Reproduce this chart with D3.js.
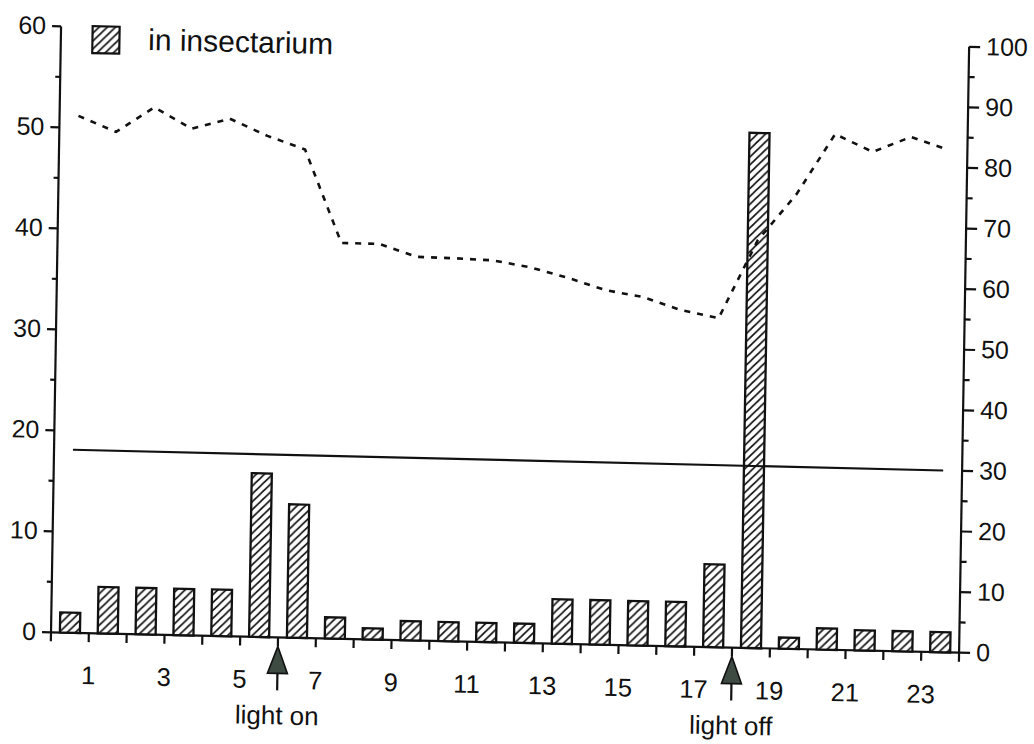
<!DOCTYPE html>
<html>
<head>
<meta charset="utf-8">
<script src="https://cdn.jsdelivr.net/npm/d3@7"></script>
<style>
  html, body { margin: 0; padding: 0; background: #fff; }
  svg { display: block; }
  text { font-family: "Liberation Sans", Arial, Helvetica, sans-serif; fill: #111; }
</style>
</head>
<body>
<svg id="chart" width="1034" height="744"></svg>
<script>
// Hour of day (bars are centred on each hour interval)
const hours = d3.range(1, 25);
// Share of catches per hour, in insectarium (left axis)
const catches = [2.0, 4.6, 4.6, 4.6, 4.6, 16.2, 13.2, 2.1, 1.1, 1.9, 1.9, 1.9,
                 1.9, 4.4, 4.4, 4.4, 4.4, 8.2, 51.0, 1.1, 2.1, 2.0, 2.0, 2.0];
// Relative humidity per hour (right axis, dashed)
const humidity = [85.3, 82.8, 87.0, 83.6, 85.4, 82.7, 80.6, 65.3, 65.3, 63.3, 63.2, 63.0,
                  62.0, 60.4, 58.5, 57.5, 55.5, 54.3, 67.3, 75.0, 85.1, 82.3, 84.9, 82.9];
// Temperature reference line (right axis, solid)
const refHours = [0.5, 23.5];
const refLevel = [30.2, 30.0];
// Axis ticks
const leftTicks = [0, 10, 20, 30, 40, 50, 60];
const leftMinor = [5, 15, 25, 35, 45, 55];
const rightTicks = [0, 10, 20, 30, 40, 50, 60, 70, 80, 90, 100];
const rightMinor = [5, 15, 25, 35, 45, 55, 65, 75, 85, 95];
const hourTicks = d3.range(0, 25);
const hourLabels = [1, 3, 5, 7, 9, 11, 13, 15, 17, 19, 21, 23];
// Light switching events
const lightEvents = [{ hour: 6, label: "light on" }, { hour: 18, label: "light off" }];
const legendLabel = "in insectarium";

const W = 908.3, H = 606;
const svg = d3.select("#chart");
svg.append("rect").attr("width", 1034).attr("height", 744).attr("fill", "#fff");

const defs = svg.append("defs");
const pat = defs.append("pattern").attr("id", "hatch")
  .attr("patternUnits", "userSpaceOnUse").attr("width", 8).attr("height", 8);
pat.append("rect").attr("width", 8).attr("height", 8).attr("fill", "#fff");
pat.append("path").attr("d", "M-1,1 l2,-2 M0,8 l8,-8 M7,9 l2,-2")
  .attr("stroke", "#111").attr("stroke-width", 1.6);

// plot frame is slightly skewed on the page
const g = svg.append("g")
  .attr("transform", "matrix(0.99975,0.02246,-0.0166,0.99986,51,632.3)");

const x = d3.scaleLinear().domain([0, 24]).range([0, W]);
const yL = d3.scaleLinear().domain([0, 60]).range([0, -H]);
const yR = d3.scaleLinear().domain([0, 100]).range([0, -H]);
const step = x(1) - x(0);
const bw = step * 0.53;

function styleAxis(sel, fs) {
  sel.selectAll("path.domain").attr("stroke", "#111").attr("stroke-width", 2.2);
  sel.selectAll(".tick line").attr("stroke", "#111").attr("stroke-width", 2.2);
  sel.selectAll(".tick text").attr("font-size", fs)
    .attr("font-family", "Liberation Sans, Arial, Helvetica, sans-serif").attr("fill", "#111");
}

// left axis
const gl = g.append("g").call(d3.axisLeft(yL).tickValues(leftTicks).tickSize(9)
  .tickSizeOuter(0).tickPadding(6).offset(0));
styleAxis(gl, 25);
const glm = g.append("g").call(d3.axisLeft(yL).tickValues(leftMinor).tickSize(5)
  .tickFormat("").offset(0));
glm.select("path.domain").remove();
styleAxis(glm, 25);

// right axis
const gr = g.append("g").attr("transform", `translate(${W},0)`)
  .call(d3.axisRight(yR).tickValues(rightTicks).tickSize(11).tickSizeOuter(0)
    .tickPadding(6).offset(0));
styleAxis(gr, 25);
const grm = g.append("g").attr("transform", `translate(${W},0)`)
  .call(d3.axisRight(yR).tickValues(rightMinor).tickSize(6).tickFormat("").offset(0));
grm.select("path.domain").remove();
styleAxis(grm, 25);

// hour axis
const gx = g.append("g").call(d3.axisBottom(x).tickValues(hourTicks).tickSize(9)
  .tickSizeOuter(0).tickPadding(24).offset(0)
  .tickFormat(d => hourLabels.includes(d) ? d : ""));
styleAxis(gx, 25.5);

// bars
g.append("g").selectAll("rect").data(hours).join("rect")
  .attr("x", (h) => x(h - 0.5) - bw / 2)
  .attr("y", (h, i) => yL(catches[i]))
  .attr("width", bw)
  .attr("height", (h, i) => yL(0) - yL(catches[i]))
  .attr("fill", "url(#hatch)")
  .attr("stroke", "#111").attr("stroke-width", 2.3);

// humidity (dashed)
g.append("path")
  .attr("d", d3.line().x((v, i) => x(hours[i] - 0.5)).y(v => yR(v))(humidity))
  .attr("fill", "none").attr("stroke", "#111").attr("stroke-width", 2.6)
  .attr("stroke-dasharray", "6,7");

// reference level (solid)
g.append("path")
  .attr("d", d3.line().x((v, i) => x(refHours[i])).y(v => yR(v))(refLevel))
  .attr("fill", "none").attr("stroke", "#111").attr("stroke-width", 2.2);

// light on/off markers
const ev = g.append("g").selectAll("g").data(lightEvents).join("g")
  .attr("transform", d => `translate(${x(d.hour)},0)`);
ev.append("line").attr("x1", 0).attr("x2", 0).attr("y1", 35).attr("y2", 53)
  .attr("stroke", "#111").attr("stroke-width", 2.2);
ev.append("path").attr("d", "M0,9 L10,36 L-10,36 Z")
  .attr("fill", "#3d4b43").attr("stroke", "#111").attr("stroke-width", 1.6);
ev.append("text").attr("y", 87).attr("text-anchor", "middle")
  .attr("font-size", 26).text(d => d.label);

// legend
g.append("rect").attr("x", 31.6).attr("y", -607).attr("width", 27).attr("height", 27)
  .attr("fill", "url(#hatch)").attr("stroke", "#111").attr("stroke-width", 2.2);
g.append("text").attr("x", 87.3).attr("y", -584.3).attr("font-size", 30).text(legendLabel);
</script>
</body>
</html>
